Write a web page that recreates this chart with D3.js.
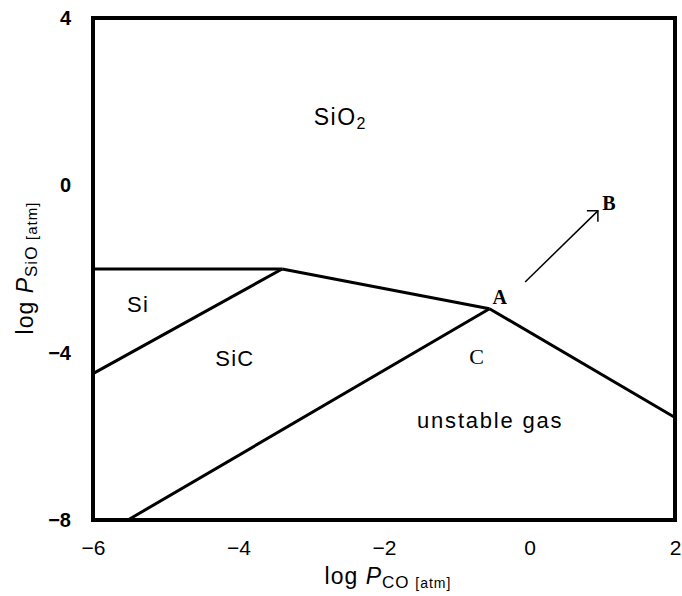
<!DOCTYPE html>
<html>
<head>
<meta charset="utf-8">
<script src="https://cdn.jsdelivr.net/npm/d3@7"></script>
<style>
  body { margin: 0; background: #fff; }
  svg { font-family: "Liberation Sans", Arial, sans-serif; }
</style>
</head>
<body>
<svg id="chart" width="682" height="596"></svg>
<script>
// axis ticks
let xTicks = [-6, -4, -2, 0, 2];
let yTicks = [4, 0, -4, -8];

// phase boundaries (log Pco, log Psio)
let siSio2 = [[-6, -2], [-3.4, -2]];
let sicSio2 = [[-3.4, -2], [-0.55, -2.95]];
let cGas = [[-0.55, -2.95], [2, -5.55]];
let siSic = [[-6, -4.5], [-3.4, -2]];
let sicC = [[-5.52, -8], [-0.55, -2.95]];
let arrowAB = [[-0.06, -2.31], [0.94, -0.61]];

// region labels
let regionNames = ['Si', 'SiC', 'C', 'unstable gas'];
let regionPos = [[-5.38, -2.86], [-4.05, -4.13], [-0.72, -4.1], [-0.54, -5.61]];
let pointNames = ['A', 'B'];
let pointPos = [[-0.41, -2.67], [1.09, -0.42]];
let sio2Pos = [-2.6, 1.63];

let svg = d3.select('#chart');

let x = d3.scaleLinear().domain([-6, 2]).range([93, 675]);
let y = d3.scaleLinear().domain([4, -8]).range([18, 520]);

let line = d3.line()
  .x(function (d) { return x(d[0]); })
  .y(function (d) { return y(d[1]); });

function minus(d) { return d < 0 ? '\u2212' + Math.abs(d) : d; }

//======= axes =======//
svg.append('g')
  .attr('transform', 'translate(0,520)')
  .call(d3.axisBottom(x).tickValues(xTicks).tickSize(0).tickPadding(20).tickFormat(minus))
  .call(g => g.select('.domain').remove())
  .selectAll('text')
  .attr('font-size', 21)
  .attr('font-family', '"Liberation Sans", Arial, sans-serif')
  .attr('fill', '#000');

svg.append('g')
  .attr('transform', 'translate(93,0)')
  .call(d3.axisLeft(y).tickValues(yTicks).tickSize(0).tickPadding(22).tickFormat(minus))
  .call(g => g.select('.domain').remove())
  .selectAll('text')
  .attr('font-size', 20)
  .attr('font-weight', 'bold')
  .attr('font-family', '"Liberation Sans", Arial, sans-serif')
  .attr('fill', '#000');

//======= boundaries =======//
[siSio2, sicSio2, cGas, siSic, sicC].forEach(function (b) {
  svg.append('path')
    .datum(b)
    .attr('fill', 'none')
    .attr('stroke', '#000')
    .attr('stroke-width', 3)
    .attr('stroke-linejoin', 'round')
    .attr('d', line);
});

// arrow A -> B
svg.append('path')
  .datum(arrowAB)
  .attr('fill', 'none')
  .attr('stroke', '#000')
  .attr('stroke-width', 1.5)
  .attr('d', line);

let tip = arrowAB[1];
svg.append('path')
  .attr('fill', 'none')
  .attr('stroke', '#000')
  .attr('stroke-width', 1.5)
  .attr('d', 'M' + (x(tip[0]) - 11) + ',' + y(tip[1]) + 'H' + x(tip[0]) + 'V' + (y(tip[1]) + 11));

//======= frame =======//
svg.append('rect')
  .attr('x', x(-6))
  .attr('y', y(4))
  .attr('width', x(2) - x(-6))
  .attr('height', y(-8) - y(4))
  .attr('fill', 'none')
  .attr('stroke', '#000')
  .attr('stroke-width', 4);

//======= labels =======//
svg.selectAll('.region')
  .data(regionNames)
  .enter()
  .append('text')
  .attr('class', 'region')
  .attr('x', function (d, i) { return x(regionPos[i][0]); })
  .attr('y', function (d, i) { return y(regionPos[i][1]); })
  .attr('text-anchor', 'middle')
  .attr('dominant-baseline', 'central')
  .attr('font-size', 22)
  .attr('letter-spacing', function (d) { return d == 'unstable gas' ? 1.8 : 1.2; })
  .attr('font-family', function (d) { return d == 'C' ? '"Liberation Serif", serif' : null; })
  .text(function (d) { return d; });

let sio2 = svg.append('text')
  .attr('x', x(sio2Pos[0]))
  .attr('y', y(sio2Pos[1]))
  .attr('text-anchor', 'middle')
  .attr('dominant-baseline', 'central')
  .attr('letter-spacing', 1.5)
  .attr('font-size', 23);
sio2.append('tspan').text('SiO');
sio2.append('tspan').attr('font-size', 16).attr('dy', 6).text('2');

svg.selectAll('.point')
  .data(pointNames)
  .enter()
  .append('text')
  .attr('class', 'point')
  .attr('x', function (d, i) { return x(pointPos[i][0]); })
  .attr('y', function (d, i) { return y(pointPos[i][1]); })
  .attr('text-anchor', 'middle')
  .attr('dominant-baseline', 'central')
  .attr('font-size', 20)
  .attr('font-weight', 'bold')
  .attr('font-family', '"Liberation Serif", "Times New Roman", serif')
  .text(function (d) { return d; });

// axis titles
let xTitle = svg.append('text')
  .attr('x', 388)
  .attr('y', 584)
  .attr('text-anchor', 'middle')
  .attr('letter-spacing', 1)
  .attr('font-size', 23);
xTitle.append('tspan').text('log ');
xTitle.append('tspan').attr('font-style', 'italic').text('P');
xTitle.append('tspan').attr('font-size', 17).attr('dy', 4).text('CO ');
xTitle.append('tspan').attr('font-size', 14).text('[atm]');

let yTitle = svg.append('text')
  .attr('transform', 'translate(33,268) rotate(-90)')
  .attr('text-anchor', 'middle')
  .attr('letter-spacing', 1)
  .attr('font-size', 23);
yTitle.append('tspan').text('log ');
yTitle.append('tspan').attr('font-style', 'italic').text('P');
yTitle.append('tspan').attr('font-size', 17).attr('dy', 4).text('SiO ');
yTitle.append('tspan').attr('font-size', 15).text('[atm]');
</script>
</body>
</html>
